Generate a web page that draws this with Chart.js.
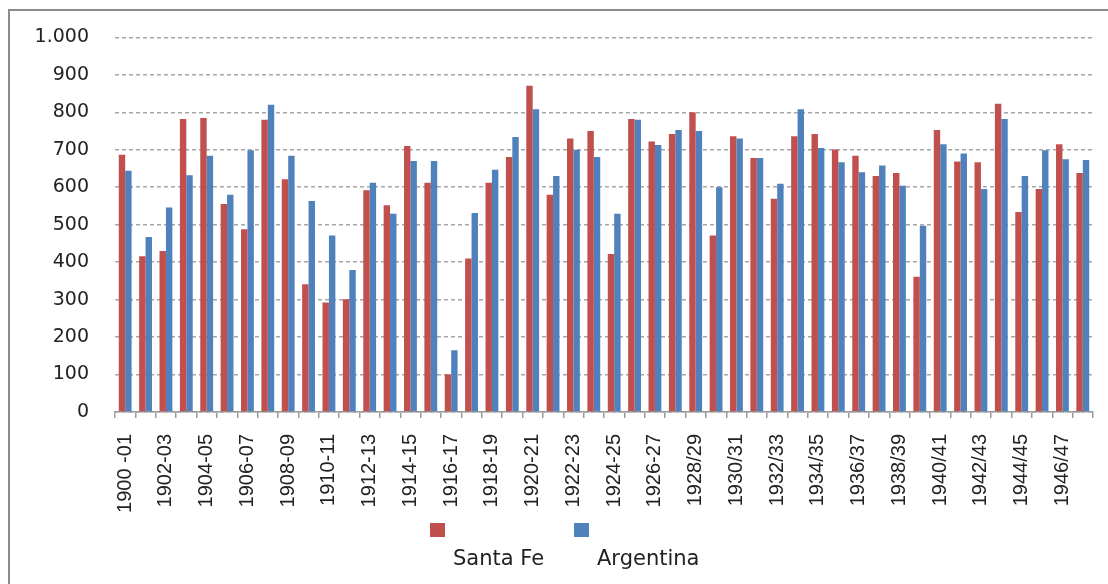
<!DOCTYPE html>
<html>
<head>
<meta charset="utf-8">
<script src="https://cdn.jsdelivr.net/npm/chart.js@4"></script>
<style>
  html, body { margin: 0; padding: 0; background: #fff; }
  #wrap { position: relative; width: 1108px; height: 584px; }
</style>
</head>
<body>
<div id="wrap"><canvas id="cosecha" width="1108" height="584"></canvas></div>
<script>
const seasons = [
  '1900 -01', '1901-02', '1902-03', '1903-04', '1904-05', '1905-06', '1906-07', '1907-08',
  '1908-09', '1909-10', '1910-11', '1911-12', '1912-13', '1913-14', '1914-15', '1915-16',
  '1916-17', '1917-18', '1918-19', '1919-20', '1920-21', '1921-22', '1922-23', '1923-24',
  '1924-25', '1925-26', '1926-27', '1927-28', '1928/29', '1929/30', '1930/31', '1931/32',
  '1932/33', '1933/34', '1934/35', '1935/36', '1936/37', '1937/38', '1938/39', '1939/40',
  '1940/41', '1941/42', '1942/43', '1943/44', '1944/45', '1945/46', '1946/47', '1947/48'
];

const santaFe = [
  687, 416, 430, 782, 785, 555, 488, 780, 621, 341, 292, 301,
  592, 552, 710, 612, 101, 410, 612, 681, 871, 580, 730, 750,
  422, 782, 722, 742, 800, 471, 736, 678, 569, 736, 742, 701,
  684, 630, 638, 361, 753, 669, 667, 823, 534, 595, 715, 638
];

const argentina = [
  644, 467, 546, 632, 684, 580, 699, 820, 684, 563, 471, 379,
  612, 529, 670, 670, 165, 531, 647, 734, 808, 630, 700, 681,
  529, 780, 713, 753, 750, 600, 730, 678, 609, 808, 705, 667,
  640, 658, 604, 497, 715, 690, 595, 782, 630, 699, 675, 673
];

const seriesNames = ['Santa Fe', 'Argentina'];
const seriesColors = ['#C0504D', '#4F81BD'];

// frame + white background
const framePlugin = {
  id: 'frame',
  beforeDraw(chart) {
    const ctx = chart.ctx;
    ctx.save();
    ctx.fillStyle = '#fff';
    ctx.fillRect(0, 0, chart.width, chart.height);
    ctx.strokeStyle = '#8c8c8c';
    ctx.lineWidth = 2;
    ctx.beginPath();
    ctx.moveTo(9, chart.height);
    ctx.lineTo(9, 10);
    ctx.lineTo(chart.width, 10);
    ctx.stroke();
    ctx.restore();
  }
};

// excel-ish legend: boxes on one row, names on the row below
const legendPlugin = {
  id: 'oddLegend',
  afterDraw(chart) {
    const ctx = chart.ctx;
    const boxX = [430, 574];
    const textX = [453, 597];
    ctx.save();
    chart.data.datasets.forEach((ds, i) => {
      ctx.fillStyle = ds.backgroundColor;
      ctx.fillRect(boxX[i], 523, 15, 14);
      ctx.fillStyle = '#222';
      ctx.font = '21px "DejaVu Sans", sans-serif';
      ctx.textBaseline = 'alphabetic';
      ctx.fillText(ds.label, textX[i], 565);
    });
    ctx.restore();
  }
};

new Chart(document.getElementById('cosecha'), {
  type: 'bar',
  data: {
    labels: seasons,
    datasets: [
      { label: seriesNames[0], data: santaFe, backgroundColor: seriesColors[0] },
      { label: seriesNames[1], data: argentina, backgroundColor: seriesColors[1] }
    ]
  },
  options: {
    responsive: false,
    animation: false,
    layout: { padding: { top: 31, right: 15, left: 0, bottom: 0 } },
    datasets: {
      bar: { categoryPercentage: 0.63, barPercentage: 1.0, borderWidth: 0 }
    },
    plugins: {
      legend: { display: false },
      tooltip: { enabled: false }
    },
    scales: {
      x: {
        afterFit: (scale) => {
          scale.height = 172;
          scale.paddingLeft = 0;
          scale.paddingRight = 0;
        },
        grid: {
          offset: true,
          drawOnChartArea: false,
          drawTicks: true,
          tickLength: 6,
          color: '#9a9a9a',
          lineWidth: 1.5
        },
        border: { display: true, color: '#9a9a9a', width: 1.5 },
        ticks: {
          autoSkip: false,
          minRotation: 90,
          maxRotation: 90,
          padding: 16,
          color: '#222',
          font: { family: '"Liberation Sans", Arial, sans-serif', size: 20 },
          callback: function (val, idx) {
            return idx % 2 === 0 ? this.getLabelForValue(val) : '';
          }
        }
      },
      y: {
        min: 0,
        max: 1000,
        afterFit: (scale) => { scale.width = 115; },
        grid: {
          drawTicks: false,
          color: '#a6a6a6',
          lineWidth: 1.5
        },
        border: { display: false, dash: [4, 3] },
        ticks: {
          stepSize: 100,
          padding: 26,
          color: '#222',
          font: { family: '"DejaVu Sans", sans-serif', size: 19 },
          callback: (v) => v.toLocaleString('de-DE')
        }
      }
    }
  },
  plugins: [framePlugin, legendPlugin]
});
</script>
</body>
</html>
